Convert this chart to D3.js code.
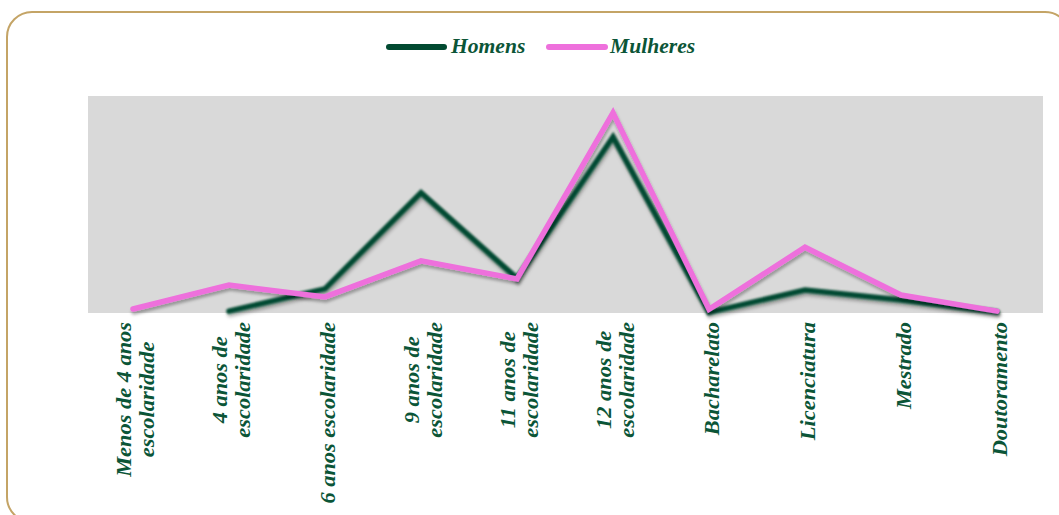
<!DOCTYPE html>
<html>
<head>
<meta charset="utf-8">
<script src="https://cdn.jsdelivr.net/npm/d3@7"></script>
<style>
  body { margin: 0; background: #fff; }
  svg { display: block; }
</style>
</head>
<body>
<svg id="chart" width="1059" height="515"></svg>
<script>
// categories (line breaks = label lines)
const categories = [
  'Menos de 4 anos\nescolaridade',
  '4 anos de\nescolaridade',
  '6 anos escolaridade',
  '9 anos de\nescolaridade',
  '11 anos de\nescolaridade',
  '12 anos de\nescolaridade',
  'Bacharelato',
  'Licenciatura',
  'Mestrado',
  'Doutoramento',
]
const seriesNames = ['Homens', 'Mulheres']
const homens = [null, 0.3, 3.9, 19.4, 5.6, 28.4, 0.1, 3.7, 2.1, 0.15]
const mulheres = [0.65, 4.5, 2.6, 8.4, 5.5, 32.3, 0.6, 10.6, 2.9, 0.3]

const width = 1059
const height = 515
const green = '#024a31'
const pink = '#ee70dc'
const textColor = '#0b5537'
const font = '"Liberation Serif", "DejaVu Serif", serif'
const stretch = 1.12 // reference font is wider than Liberation Serif

const svg = d3.select('#chart')

// filters
const defs = svg.append('defs')
const shadow = defs.append('filter').attr('id', 'shadow')
  .attr('x', '-10%').attr('y', '-20%').attr('width', '120%').attr('height', '160%')
shadow.append('feDropShadow')
  .attr('dx', 1).attr('dy', 3).attr('stdDeviation', 1.8)
  .attr('flood-color', '#000').attr('flood-opacity', 0.3)
const blurShadow = defs.append('filter').attr('id', 'blurShadow')
  .attr('x', '-10%').attr('y', '-20%').attr('width', '120%').attr('height', '160%')
blurShadow.append('feGaussianBlur').attr('in', 'SourceGraphic').attr('stdDeviation', 0.9).attr('result', 'b')
blurShadow.append('feDropShadow')
  .attr('in', 'b')
  .attr('dx', 1).attr('dy', 3).attr('stdDeviation', 1.8)
  .attr('flood-color', '#000').attr('flood-opacity', 0.3)

// frame
svg.append('rect')
  .attr('x', 7).attr('y', 12)
  .attr('width', 1063).attr('height', 510)
  .attr('rx', 25)
  .attr('fill', '#fff')
  .attr('stroke', '#c4a466')
  .attr('stroke-width', 2)

// plot area
const plot = { left: 88, right: 1043, top: 96, bottom: 313 }
svg.append('rect')
  .attr('x', plot.left).attr('y', plot.top)
  .attr('width', plot.right - plot.left).attr('height', plot.bottom - plot.top)
  .attr('fill', '#d9d9d9')

const x = d3.scalePoint().domain(categories).range([85, 1045]).padding(0.5)
const y = d3.scaleLinear().domain([0, 35]).range([plot.bottom, plot.top])

const line = d3.line()
  .defined((d) => d.v != null)
  .x((d) => x(d.c))
  .y((d) => y(d.v))

const series = [
  { name: seriesNames[0], color: green, values: homens, filter: 'url(#blurShadow)' },
  { name: seriesNames[1], color: pink, values: mulheres, filter: 'url(#shadow)' },
]

svg.append('g')
  .selectAll('path')
  .data(series)
  .join('path')
  .attr('d', (s) => line(s.values.map((v, i) => ({ c: categories[i], v }))))
  .attr('fill', 'none')
  .attr('stroke', (s) => s.color)
  .attr('stroke-width', 5.5)
  .attr('stroke-linecap', 'round')
  .attr('stroke-linejoin', 'miter')
  .attr('filter', (s) => s.filter)

// x labels, rotated, lines centred on each other, block anchored at top
const labelTop = 322
const lineGap = 24
const labels = svg.append('g')
  .attr('font-family', font)
  .attr('font-weight', 'bold')
  .attr('font-style', 'italic')
  .attr('font-size', 20)
  .attr('fill', textColor)

categories.forEach((c) => {
  const lines = c.split('\n')
  const g = labels.append('g')
    .attr('transform', `translate(${x(c)},${labelTop}) rotate(-90) scale(${stretch},1)`)
  const texts = g.selectAll('text')
    .data(lines)
    .join('text')
    .attr('text-anchor', 'middle')
    .attr('y', (d, i) => 9.5 + (i - (lines.length - 1) / 2) * lineGap)
    .text((d) => d)
  const maxLen = d3.max(texts.nodes(), (n) => n.getComputedTextLength())
  texts.attr('x', -maxLen / 2)
})

// legend
const legendItems = [
  { name: seriesNames[0], color: green, x1: 389, x2: 444, tx: 451 },
  { name: seriesNames[1], color: pink, x1: 549, x2: 605, tx: 610 },
]
const legend = svg.append('g')
legend.selectAll('line')
  .data(legendItems)
  .join('line')
  .attr('x1', (d) => d.x1).attr('x2', (d) => d.x2)
  .attr('y1', 47).attr('y2', 47)
  .attr('stroke', (d) => d.color)
  .attr('stroke-width', 6)
  .attr('stroke-linecap', 'round')
legend.selectAll('text')
  .data(legendItems)
  .join('text')
  .attr('transform', (d) => `translate(${d.tx},53) scale(1.08,1)`)
  .attr('font-family', font)
  .attr('font-weight', 'bold')
  .attr('font-style', 'italic')
  .attr('font-size', 20)
  .attr('fill', textColor)
  .text((d) => d.name)
</script>
</body>
</html>
